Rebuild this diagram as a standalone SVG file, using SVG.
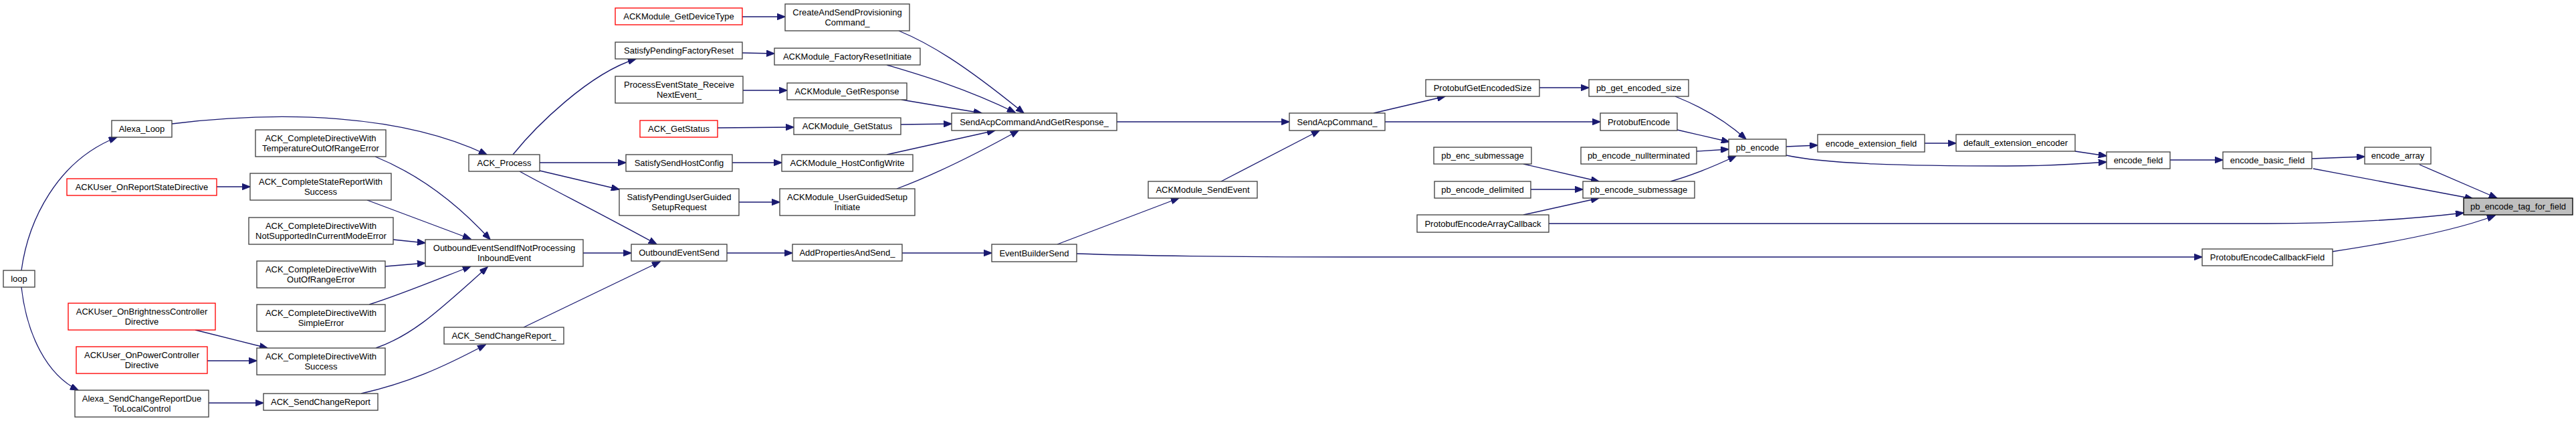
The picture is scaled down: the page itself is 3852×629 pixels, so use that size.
<svg xmlns="http://www.w3.org/2000/svg" width="3852" height="629" viewBox="0 0 3852 629">
<style>
.n rect{fill:#fff;stroke:#404040;stroke-width:1.33}
.n.r rect{stroke:#ff0000}
.n.m rect{fill:#bfbfbf;stroke:#000}
.n text{font-family:"Liberation Sans",Arial,Helvetica,sans-serif;font-size:13px;text-anchor:middle;fill:#000}
#edges path{fill:none;stroke:#191970;stroke-width:1.33;marker-end:url(#ah)}
</style>
<defs>
<marker id="ah" viewBox="0 0 13 10" refX="12.5" refY="5" markerWidth="13" markerHeight="9.5" markerUnits="userSpaceOnUse" orient="auto">
<polygon points="0,0 13,5 0,10" fill="#191970" stroke="#191970" stroke-width="1"/>
</marker>
</defs>
<rect x="0" y="0" width="3852" height="629" fill="#fff"/>
<g id="edges">
<path d="M32,404 C42,330 85,240 175,205"/>
<path d="M32,429 C40,500 70,560 117,583"/>
<path d="M257,185 C420,165 600,170 728,231"/>
<path d="M324,279 L374,279"/>
<path d="M292,493 L400,520"/>
<path d="M310,539 L384,539"/>
<path d="M312,602 L394,602"/>
<path d="M561,234 C620,258 680,300 733,358"/>
<path d="M549,299 L704,357"/>
<path d="M588,358 L636,363"/>
<path d="M576,398 L636,393"/>
<path d="M552,455 C600,440 660,415 704,398"/>
<path d="M562,520 C620,500 660,460 729,399"/>
<path d="M540,588 C610,572 660,550 726,515"/>
<path d="M767,231 C800,190 880,110 951,88"/>
<path d="M807,243 L936,243"/>
<path d="M807,255 L926,283"/>
<path d="M777,256 C820,280 900,320 982,365"/>
<path d="M872,378 L944,378"/>
<path d="M783,489 L987,391"/>
<path d="M1110,25 L1174,25"/>
<path d="M1110,79 L1158,80"/>
<path d="M1111,135 L1177,135"/>
<path d="M1073,191 L1187,190"/>
<path d="M1095,243 L1169,243"/>
<path d="M1105,302 L1166,302"/>
<path d="M1087,378 L1185,378"/>
<path d="M1344,46 C1390,65 1440,95 1531,169"/>
<path d="M1326,97 C1370,110 1440,130 1518,168"/>
<path d="M1348,149 L1468,169"/>
<path d="M1347,186 L1423,185"/>
<path d="M1326,231 L1488,195"/>
<path d="M1341,282 C1400,260 1460,230 1523,195"/>
<path d="M1670,182 L1928,182"/>
<path d="M1349,378 L1483,378"/>
<path d="M1581,365 L1763,296"/>
<path d="M1826,271 L1973,195"/>
<path d="M1610,379 C1700,382 1800,384 2020,384 L3293,384"/>
<path d="M2054,169 L2161,144"/>
<path d="M2071,182 L2393,182"/>
<path d="M2302,131 L2376,131"/>
<path d="M2505,144 C2540,158 2580,180 2611,208"/>
<path d="M2508,194 L2586,212"/>
<path d="M2537,226 L2585,223"/>
<path d="M2498,271 C2530,262 2560,250 2596,233"/>
<path d="M2278,245 L2391,271"/>
<path d="M2289,283 L2367,283"/>
<path d="M2278,321 L2391,296"/>
<path d="M2316,334 L3390,334 C3500,334 3600,328 3684,318"/>
<path d="M2671,219 L2718,217"/>
<path d="M2671,232 C2730,245 2850,248 3000,248 C3060,248 3110,245 3150,242"/>
<path d="M2878,214 L2925,214"/>
<path d="M3103,226 L3150,233"/>
<path d="M3245,239 L3324,239"/>
<path d="M3457,237 L3536,234"/>
<path d="M3459,252 L3698,297"/>
<path d="M3618,246 L3734,296"/>
<path d="M3487,376 C3580,362 3670,345 3731,322"/>
</g>
<g id="loop" class="n"><rect x="5" y="404" width="47" height="25"/><text x="28.5" y="421">loop</text></g>
<g id="Alexa_Loop" class="n"><rect x="167" y="180" width="90" height="25"/><text x="212" y="197">Alexa_Loop</text></g>
<g id="ACKUser_OnReportStateDirective" class="n r"><rect x="100" y="267" width="224" height="25"/><text x="212" y="284">ACKUser_OnReportStateDirective</text></g>
<g id="ACKUser_OnBrightnessControllerDirective" class="n r"><rect x="102" y="453" width="220" height="40"/><text x="212" y="470">ACKUser_OnBrightnessController</text><text x="212" y="484.5">Directive</text></g>
<g id="ACKUser_OnPowerControllerDirective" class="n r"><rect x="114" y="518" width="196" height="40"/><text x="212" y="535">ACKUser_OnPowerController</text><text x="212" y="549.5">Directive</text></g>
<g id="Alexa_SendChangeReportDueToLocalControl" class="n"><rect x="112" y="583" width="200" height="40"/><text x="212" y="600">Alexa_SendChangeReportDue</text><text x="212" y="614.5">ToLocalControl</text></g>
<g id="ACK_CompleteDirectiveWithTemperatureOutOfRangeError" class="n"><rect x="382" y="194" width="195" height="40"/><text x="479.5" y="211">ACK_CompleteDirectiveWith</text><text x="479.5" y="225.5">TemperatureOutOfRangeError</text></g>
<g id="ACK_CompleteStateReportWithSuccess" class="n"><rect x="374" y="259" width="211" height="40"/><text x="479.5" y="276">ACK_CompleteStateReportWith</text><text x="479.5" y="290.5">Success</text></g>
<g id="ACK_CompleteDirectiveWithNotSupportedInCurrentModeError" class="n"><rect x="372" y="325" width="216" height="40"/><text x="480" y="342">ACK_CompleteDirectiveWith</text><text x="480" y="356.5">NotSupportedInCurrentModeError</text></g>
<g id="ACK_CompleteDirectiveWithOutOfRangeError" class="n"><rect x="384" y="390" width="192" height="40"/><text x="480" y="407">ACK_CompleteDirectiveWith</text><text x="480" y="421.5">OutOfRangeError</text></g>
<g id="ACK_CompleteDirectiveWithSimpleError" class="n"><rect x="384" y="455" width="192" height="40"/><text x="480" y="472">ACK_CompleteDirectiveWith</text><text x="480" y="486.5">SimpleError</text></g>
<g id="ACK_CompleteDirectiveWithSuccess" class="n"><rect x="384" y="520" width="192" height="40"/><text x="480" y="537">ACK_CompleteDirectiveWith</text><text x="480" y="551.5">Success</text></g>
<g id="ACK_SendChangeReport" class="n"><rect x="394" y="588" width="171" height="25"/><text x="479.5" y="605">ACK_SendChangeReport</text></g>
<g id="ACK_Process" class="n"><rect x="701" y="231" width="106" height="25"/><text x="754" y="248">ACK_Process</text></g>
<g id="OutboundEventSendIfNotProcessingInboundEvent" class="n"><rect x="636" y="358" width="236" height="40"/><text x="754" y="375">OutboundEventSendIfNotProcessing</text><text x="754" y="389.5">InboundEvent</text></g>
<g id="ACK_SendChangeReport_" class="n"><rect x="664" y="489" width="179" height="25"/><text x="753.5" y="506">ACK_SendChangeReport_</text></g>
<g id="ACKModule_GetDeviceType" class="n r"><rect x="920" y="12" width="190" height="25"/><text x="1015" y="29">ACKModule_GetDeviceType</text></g>
<g id="SatisfyPendingFactoryReset" class="n"><rect x="920" y="63" width="190" height="25"/><text x="1015" y="80">SatisfyPendingFactoryReset</text></g>
<g id="ProcessEventState_ReceiveNextEvent_" class="n"><rect x="920" y="114" width="191" height="40"/><text x="1015.5" y="131">ProcessEventState_Receive</text><text x="1015.5" y="145.5">NextEvent_</text></g>
<g id="ACK_GetStatus" class="n r"><rect x="957" y="180" width="116" height="25"/><text x="1015" y="197">ACK_GetStatus</text></g>
<g id="SatisfySendHostConfig" class="n"><rect x="936" y="231" width="159" height="25"/><text x="1015.5" y="248">SatisfySendHostConfig</text></g>
<g id="SatisfyPendingUserGuidedSetupRequest" class="n"><rect x="926" y="282" width="179" height="40"/><text x="1015.5" y="299">SatisfyPendingUserGuided</text><text x="1015.5" y="313.5">SetupRequest</text></g>
<g id="OutboundEventSend" class="n"><rect x="944" y="365" width="143" height="25"/><text x="1015.5" y="382">OutboundEventSend</text></g>
<g id="CreateAndSendProvisioningCommand_" class="n"><rect x="1174" y="6" width="186" height="40"/><text x="1267" y="23">CreateAndSendProvisioning</text><text x="1267" y="37.5">Command_</text></g>
<g id="ACKModule_FactoryResetInitiate" class="n"><rect x="1158" y="72" width="218" height="25"/><text x="1267" y="89">ACKModule_FactoryResetInitiate</text></g>
<g id="ACKModule_GetResponse" class="n"><rect x="1177" y="124" width="179" height="25"/><text x="1266.5" y="141">ACKModule_GetResponse</text></g>
<g id="ACKModule_GetStatus" class="n"><rect x="1187" y="176" width="160" height="25"/><text x="1267" y="193">ACKModule_GetStatus</text></g>
<g id="ACKModule_HostConfigWrite" class="n"><rect x="1169" y="231" width="196" height="25"/><text x="1267" y="248">ACKModule_HostConfigWrite</text></g>
<g id="ACKModule_UserGuidedSetupInitiate" class="n"><rect x="1166" y="282" width="202" height="40"/><text x="1267" y="299">ACKModule_UserGuidedSetup</text><text x="1267" y="313.5">Initiate</text></g>
<g id="AddPropertiesAndSend_" class="n"><rect x="1185" y="365" width="164" height="25"/><text x="1267" y="382">AddPropertiesAndSend_</text></g>
<g id="SendAcpCommandAndGetResponse_" class="n"><rect x="1423" y="169" width="247" height="26"/><text x="1546.5" y="186.5">SendAcpCommandAndGetResponse_</text></g>
<g id="ACKModule_SendEvent" class="n"><rect x="1717" y="271" width="163" height="25"/><text x="1798.5" y="288">ACKModule_SendEvent</text></g>
<g id="EventBuilderSend" class="n"><rect x="1483" y="365" width="127" height="26"/><text x="1546.5" y="382.5">EventBuilderSend</text></g>
<g id="SendAcpCommand_" class="n"><rect x="1928" y="169" width="143" height="26"/><text x="1999.5" y="186.5">SendAcpCommand_</text></g>
<g id="ProtobufGetEncodedSize" class="n"><rect x="2132" y="119" width="170" height="25"/><text x="2217" y="136">ProtobufGetEncodedSize</text></g>
<g id="pb_enc_submessage" class="n"><rect x="2144" y="220" width="146" height="25"/><text x="2217" y="237">pb_enc_submessage</text></g>
<g id="pb_encode_delimited" class="n"><rect x="2145" y="271" width="144" height="25"/><text x="2217" y="288">pb_encode_delimited</text></g>
<g id="ProtobufEncodeArrayCallback" class="n"><rect x="2119" y="321" width="197" height="26"/><text x="2217.5" y="338.5">ProtobufEncodeArrayCallback</text></g>
<g id="pb_get_encoded_size" class="n"><rect x="2376" y="119" width="149" height="25"/><text x="2450.5" y="136">pb_get_encoded_size</text></g>
<g id="ProtobufEncode" class="n"><rect x="2393" y="169" width="115" height="26"/><text x="2450.5" y="186.5">ProtobufEncode</text></g>
<g id="pb_encode_nullterminated" class="n"><rect x="2364" y="220" width="173" height="25"/><text x="2450.5" y="237">pb_encode_nullterminated</text></g>
<g id="pb_encode_submessage" class="n"><rect x="2367" y="271" width="167" height="25"/><text x="2450.5" y="288">pb_encode_submessage</text></g>
<g id="pb_encode" class="n"><rect x="2585" y="208" width="86" height="25"/><text x="2628" y="225">pb_encode</text></g>
<g id="encode_extension_field" class="n"><rect x="2718" y="201" width="160" height="26"/><text x="2798" y="218.5">encode_extension_field</text></g>
<g id="default_extension_encoder" class="n"><rect x="2925" y="201" width="178" height="25"/><text x="3014" y="218">default_extension_encoder</text></g>
<g id="encode_field" class="n"><rect x="3150" y="227" width="95" height="25"/><text x="3197.5" y="244">encode_field</text></g>
<g id="encode_basic_field" class="n"><rect x="3324" y="227" width="133" height="25"/><text x="3390.5" y="244">encode_basic_field</text></g>
<g id="encode_array" class="n"><rect x="3536" y="220" width="99" height="25"/><text x="3585.5" y="237">encode_array</text></g>
<g id="pb_encode_tag_for_field" class="n m"><rect x="3684" y="296" width="163" height="25"/><text x="3765.5" y="313">pb_encode_tag_for_field</text></g>
<g id="ProtobufEncodeCallbackField" class="n"><rect x="3293" y="372" width="195" height="25"/><text x="3390.5" y="389">ProtobufEncodeCallbackField</text></g>
</svg>
